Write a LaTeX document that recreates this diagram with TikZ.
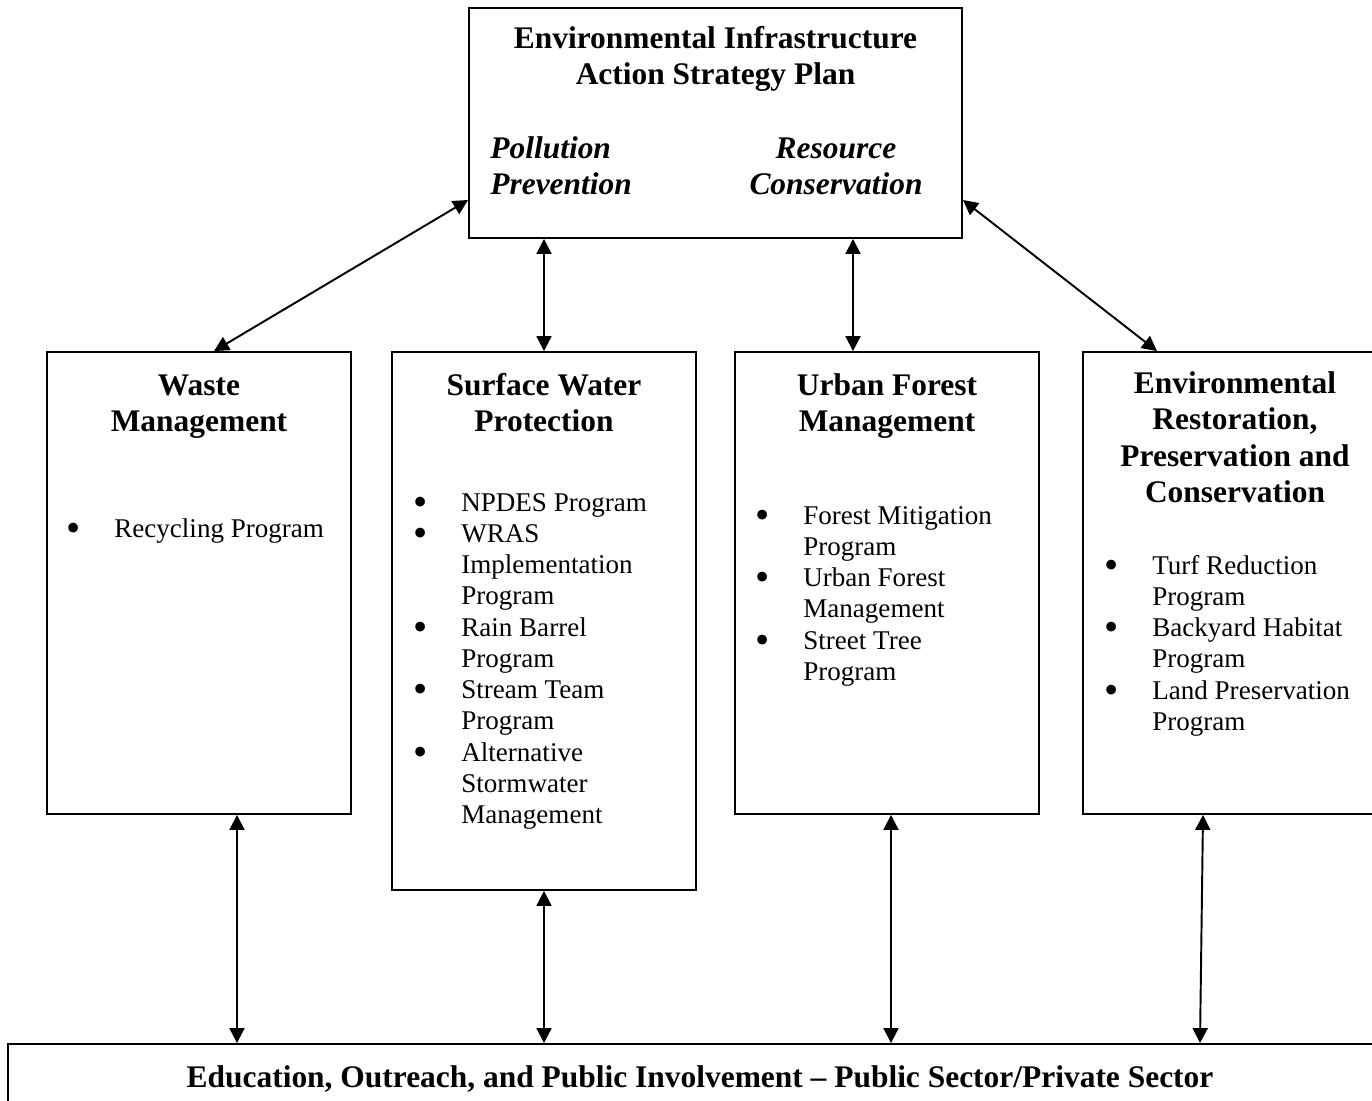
\documentclass[tikz,border=0pt]{standalone}
\usepackage{graphicx}
\usepackage{fontspec}
\setmainfont{Liberation Serif}
\usetikzlibrary{arrows.meta}
\newcommand{\bodyfont}{\fontsize{15.4}{17.8}\selectfont}
\newcommand{\headfont}{\fontsize{17.9}{20.8}\selectfont\bfseries}
\newcommand{\bul}{\smash{\raisebox{-0.16em}{\scalebox{1.5}{\textbullet}}}}
\newcommand{\blist}[1]{\bodyfont\begin{tabular}[t]{@{}p{0.96cm}@{}l@{}}#1\end{tabular}}
\newcommand{\hlist}[1]{\headfont\begin{tabular}[t]{@{}c@{}}#1\end{tabular}}
\begin{document}
\begin{tikzpicture}[x=0.02cm,y=-0.02cm,
  box/.style={draw, line width=1.1pt, inner sep=0pt, rectangle},
  dbl/.style={line width=1.1pt, {Triangle[length=8.5pt,width=8.5pt]}-{Triangle[length=8.5pt,width=8.5pt]}},
  txt/.style={inner sep=0pt, anchor=base},
  ltxt/.style={inner sep=0pt, anchor=base west}]
\useasboundingbox (0,0) rectangle (1372,1100);
\clip (0,0) rectangle (1372,1100);
% boxes
\node[box, minimum width=9.86cm, minimum height=4.6cm] (top) at (715.5,123) {};
\node[box, minimum width=6.08cm, minimum height=9.24cm] (wm) at (199,583) {};
\node[box, minimum width=6.08cm, minimum height=10.76cm] (sw) at (544,621) {};
\node[box, minimum width=6.08cm, minimum height=9.24cm] (uf) at (887,583) {};
\node[box, minimum width=6.08cm, minimum height=9.24cm] (er) at (1235,583) {};
\node[box, minimum width=27.84cm, minimum height=1.52cm] (bot) at (704,1082) {};
% top box text
\node[txt] (toph) at (715.5,48) {\hlist{Environmental Infrastructure\\Action Strategy Plan}};
\node[ltxt] (pp) at (490,158) {\headfont\itshape\begin{tabular}[t]{@{}l@{}}Pollution\\Prevention\end{tabular}};
\node[txt] (rc) at (836,158) {\headfont\itshape\begin{tabular}[t]{@{}c@{}}Resource\\Conservation\end{tabular}};
% headings
\node[txt] (wmh) at (199,395) {\hlist{Waste\\Management}};
\node[txt] (swh) at (544,395) {\hlist{Surface Water\\Protection}};
\node[txt] (ufh) at (887,395) {\hlist{Urban Forest\\Management}};
\node[txt] (erh) at (1235,393) {\hlist{Environmental\\Restoration,\\Preservation and\\Conservation}};
% bullet lists
\node[ltxt] (wml) at (66,537) {\blist{\bul & Recycling Program}};
\node[ltxt] (swl) at (413,511) {\blist{\bul & NPDES Program\\
  \bul & WRAS\\ & Implementation\\ & Program\\
  \bul & Rain Barrel\\ & Program\\
  \bul & Stream Team\\ & Program\\
  \bul & Alternative\\ & Stormwater\\ & Management}};
\node[ltxt] (ufl) at (755,524) {\blist{\bul & Forest Mitigation\\ & Program\\
  \bul & Urban Forest\\ & Management\\
  \bul & Street Tree\\ & Program}};
\node[ltxt] (erl) at (1104,574) {\blist{\bul & Turf Reduction\\ & Program\\
  \bul & Backyard Habitat\\ & Program\\
  \bul & Land Preservation\\ & Program}};
% bottom text
\node[txt] (bott) at (700,1087) {\headfont Education, Outreach, and Public Involvement – Public Sector/Private Sector};
% connectors
\draw[dbl] (top.west |- 0,200) -- (wm.north -| 214,0);
\draw[dbl] (top.south -| sw.north) -- (sw.north);
\draw[dbl] (top.south -| 853,0) -- (uf.north -| 853,0);
\draw[dbl] (top.east |- 0,200) -- (er.north -| 1157,0);
\draw[dbl] (wm.south -| 237,0) -- (bot.north -| 237,0);
\draw[dbl] (sw.south) -- (bot.north -| sw.south);
\draw[dbl] (uf.south -| 891,0) -- (bot.north -| 891,0);
\draw[dbl] (er.south -| 1203,0) -- (bot.north -| 1200,0);
\end{tikzpicture}
\end{document}
